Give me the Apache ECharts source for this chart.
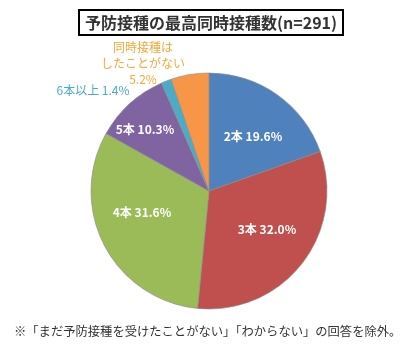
<!DOCTYPE html>
<html><head><meta charset="utf-8">
<script src="https://cdn.jsdelivr.net/npm/echarts@6/dist/echarts.min.js"></script>
<style>html,body{margin:0;padding:0;background:#fff}#c{width:409px;height:360px}</style>
</head><body><div id="c"></div>
<script>
const categories = ['2本', '3本', '4本', '5本', '6本以上', '同時接種は\nしたことがない'];
const values = [19.6, 32.0, 31.6, 10.3, 1.4, 5.2];
const titleText = '予防接種の最高同時接種数(n=291)';
const footnote = '※「まだ予防接種を受けたことがない」「わからない」の回答を除外。';

const colors = ['#4F81BD', '#C0504D', '#9BBB59', '#8064A2', '#4BACC6', '#F79646'];
const labelColors = ['#fff', '#fff', '#fff', '#fff', '#4BACC6', '#F0AA38'];
const labelPos = [[253, 136], [267, 229], [142, 212], [145, 129], [93, 90], [143, 63]];
const FONT = '"Noto Sans CJK JP", sans-serif';

const chart = echarts.init(document.getElementById('c'));
chart.setOption({
  backgroundColor: '#fff',
  animation: false,
  title: {
    text: titleText,
    left: 79, top: 10,
    padding: [5, 6, 4, 6],
    borderColor: '#000', borderWidth: 2,
    textStyle: { fontFamily: FONT, fontSize: 16, fontWeight: 'bold', color: '#333' }
  },
  graphic: [{
    type: 'text', left: 14, top: 325,
    style: { text: footnote, font: '12.3px ' + FONT, fill: '#333' }
  }],
  series: [{
    type: 'pie',
    center: [209, 191],
    radius: 118,
    startAngle: 90,
    clockwise: true,
    data: categories.map((c, i) => ({
      name: c, value: values[i],
      itemStyle: { color: colors[i] },
      label: {
        color: labelColors[i],
        fontWeight: i < 4 ? 'bold' : 'normal',
        position: i < 4 ? 'inside' : 'outside'
      },
      labelLine: { show: false }
    })),
    itemStyle: { borderColor: 'rgba(140,140,140,0.8)', borderWidth: 0.8 },
    label: {
      fontFamily: FONT, fontSize: 12, lineHeight: 16,
      formatter: p => p.dataIndex === 5 ? p.name + '\n' + p.value.toFixed(1) + '%' : p.name + ' ' + p.value.toFixed(1) + '%',
      align: 'center'
    },
    labelLayout: p => ({ x: labelPos[p.dataIndex][0], y: labelPos[p.dataIndex][1], align: 'center', verticalAlign: 'middle' })
  }]
});
</script></body></html>
